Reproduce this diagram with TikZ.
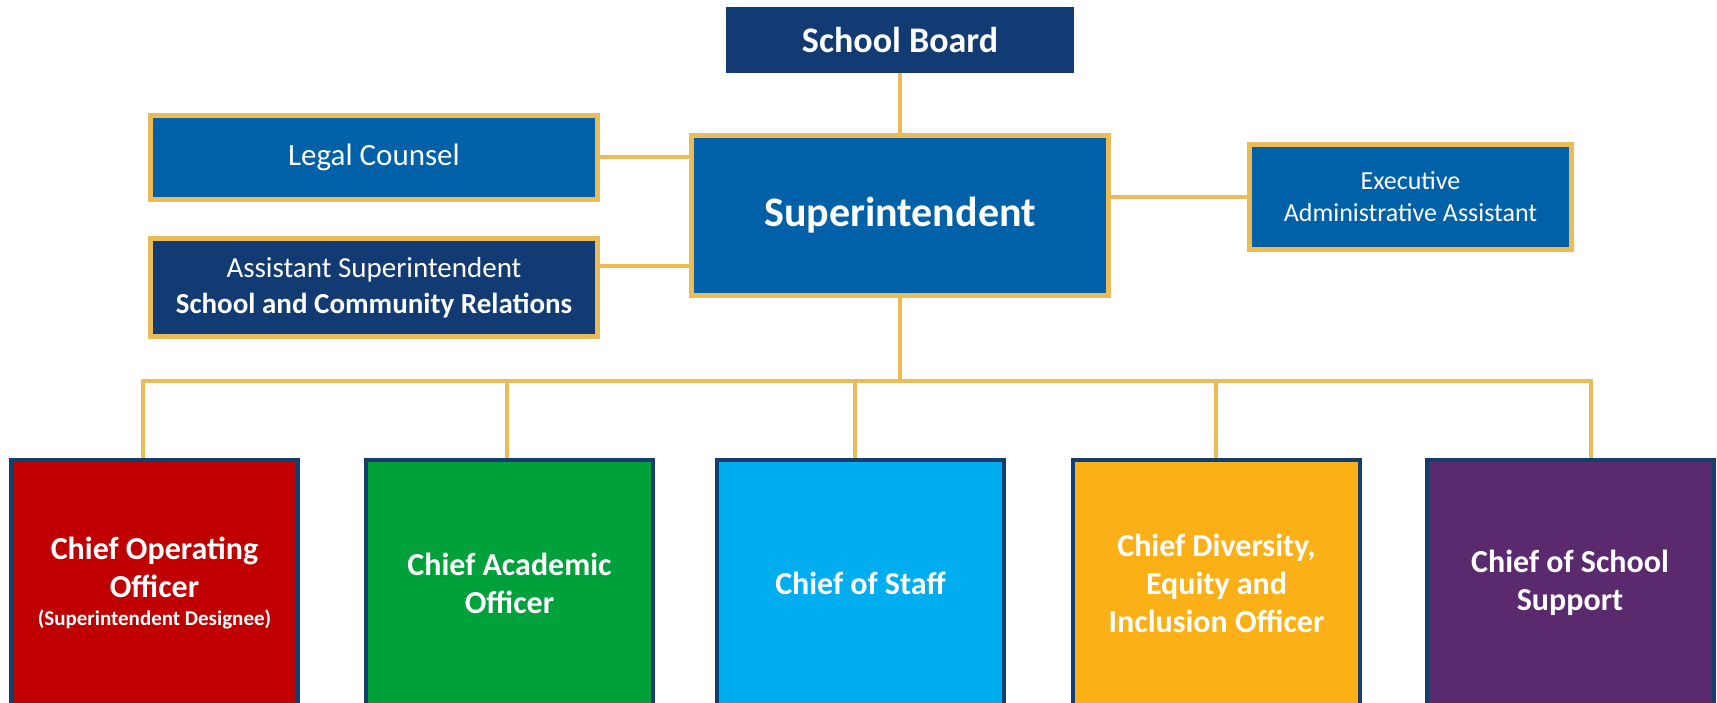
\documentclass[tikz,border=0pt]{standalone}
\usepackage{fontspec}
\setmainfont{Carlito}
\usetikzlibrary{positioning,calc,backgrounds}

\definecolor{boardnavy}{RGB}{18,59,115}
\definecolor{supblue}{RGB}{0,96,168}
\definecolor{linegold}{RGB}{235,187,87}
\definecolor{coored}{RGB}{192,0,0}
\definecolor{caogreen}{RGB}{0,160,58}
\definecolor{staffcyan}{RGB}{0,174,239}
\definecolor{deiorange}{RGB}{251,176,23}
\definecolor{supportpurple}{RGB}{91,42,110}
\definecolor{chiefborder}{RGB}{20,62,110}

\begin{document}
\begin{tikzpicture}[x=1pt, y=-1pt,
  box/.style={rectangle, inner sep=0pt, outer sep=0pt, text=white, align=center},
  goldbox/.style={box, draw=linegold, line width=5pt, fill=supblue},
  chief/.style={box, draw=chiefborder, line width=4pt, minimum width=287pt,
    minimum height=246pt, font=\fontsize{32}{38}\selectfont\bfseries},
  link/.style={draw=linegold, line width=4pt}]
  \useasboundingbox (0,0) rectangle (1717,703);

  % Board and superintendent
  \node[box, fill=boardnavy, minimum width=348pt, minimum height=66pt,
    font=\fontsize{36}{42}\selectfont\bfseries] (board) at (900,40) {School Board};
  \node[goldbox, minimum width=417pt, minimum height=160pt,
    font=\fontsize{42}{48}\selectfont\bfseries] (super) at (900,215.5) {Superintendent};

  % Staff beside the superintendent
  \node[goldbox, minimum width=447pt, minimum height=84pt,
    font=\fontsize{31}{36}\selectfont] (legal) at (374,157.5) {Legal Counsel};
  \node[goldbox, fill=boardnavy, minimum width=447pt, minimum height=98pt,
    font=\fontsize{29}{36}\selectfont] (asst) at (374,287.5)
    {Assistant Superintendent\\\textbf{School and Community Relations}};
  \node[goldbox, minimum width=322pt, minimum height=105pt,
    font=\fontsize{26}{32}\selectfont] (exec) at (1410.5,197)
    {Executive\\Administrative Assistant};

  % Chiefs
  \foreach \i/\c/\x/\t in {
    1/coored/154.5/{Chief Operating\\Officer\\[-10pt]{\fontsize{21}{28}\selectfont(Superintendent Designee)}},
    2/caogreen/509.5/{Chief Academic\\Officer},
    3/staffcyan/860.5/{Chief of Staff},
    4/deiorange/1216.5/{Chief Diversity,\\Equity and\\Inclusion Officer},
    5/supportpurple/1570/{Chief of School\\Support}} {
    \node[chief, fill=\c] (c\i) at (\x,583) {\t};
  }

  % Drop points on the bus
  \foreach \i/\x in {1/143, 2/507, 3/855, 4/1216, 5/1591}
    \coordinate (t\i) at (\x,381);

  % Connectors
  \begin{scope}[on background layer]
    \draw[link] (board) -- (super);
    \draw[link] (legal.east) -- (legal.east -| super.west);
    \draw[link] ([yshift=21.5pt]asst.east) -- ([yshift=21.5pt]asst.east -| super.west);
    \draw[link] (super.east |- exec.west) -- (exec.west);
    \draw[link] (super.south) -- (super.south |- t1);
    \draw[link] (t1 |- c1.north) -- (t1) -- (t5) -- (t5 |- c5.north);
    \foreach \i in {2,3,4}
      \draw[link] (t\i) -- (t\i |- c\i.north);
  \end{scope}
\end{tikzpicture}
\end{document}
